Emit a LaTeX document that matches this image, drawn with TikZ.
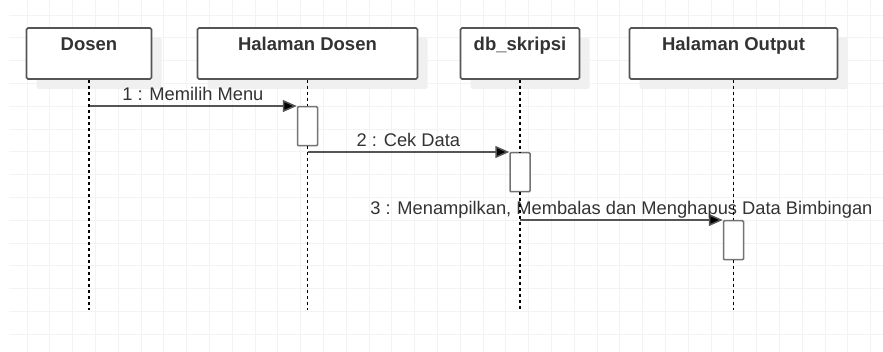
\documentclass[tikz,border=0pt]{standalone}
\usepackage{fontspec}
\setmainfont{Liberation Sans}
\usepackage{xcolor}
\usetikzlibrary{shapes, arrows.meta, positioning, shadows}
\definecolor{txtgray}{HTML}{333333}
\definecolor{linegray}{HTML}{555555}
\definecolor{gridgray}{HTML}{F3F3F3}
\definecolor{shadowgray}{HTML}{F0F0F0}

\begin{document}
\begin{tikzpicture}[x=1pt, y=-1pt,
    headbox/.style={draw=linegray, line width=1.6pt, rectangle, rounded corners=1.5pt, fill=white,
        general shadow={fill=shadowgray, shadow xshift=10pt, shadow yshift=-10pt},
        inner sep=5pt, text height=18pt, text depth=23pt, text=txtgray,
        font=\fontsize{18.5}{20}\selectfont\bfseries},
    actbox/.style={draw=black!55, line width=1.5pt, rectangle, fill=white, rounded corners=1pt,
        minimum width=20pt, minimum height=39pt, inner sep=0pt, anchor=north},
    lifeline/.style={black, line width=1.2pt, dash pattern=on 3pt off 3pt},
    msg/.style={draw=linegray, line width=1.5pt, -{Triangle[length=14pt, width=12pt, fill=black]}},
    msglabel/.style={anchor=base, yshift=5.5pt, text=txtgray, font=\fontsize{18.3}{20}\selectfont}]

    \useasboundingbox (0,0) rectangle (883,352);
    \fill[white] (0,0) rectangle (883,352);

    % grid
    \foreach \gx in {0,...,37}
        \draw[gridgray, line width=0.9pt] ({27+22.8*\gx},0) -- ({27+22.8*\gx},352);
    \foreach \gy in {0,...,14}
        \draw[gridgray, line width=0.9pt] (9,{15+22.8*\gy}) -- (883,{15+22.8*\gy});

    \node[headbox, minimum width=125pt] (dosen) at (89,53.5) {Dosen};
    \node[headbox, minimum width=220pt] (halDosen) at (307.5,53.5) {Halaman Dosen};
    \node[headbox, minimum width=119pt] (db) at (520,53.5) {db\_skripsi};
    \node[headbox, minimum width=208pt] (halOutput) at (733.5,53.5) {Halaman Output};

    \coordinate (dosenEnd) at (89,310);
    \coordinate (halDosenEnd) at (307.5,310);
    \coordinate (dbEnd) at (520,310);
    \coordinate (halOutputEnd) at (733.5,310);

    \node[actbox] (act1) at (307.5,106) {};
    \node[actbox] (act2) at (520,152) {};
    \node[actbox] (act3) at (733.5,220) {};

    \draw[msg] (dosen.south |- act1.north west) -- node[msglabel] {1 : Memilih Menu} (act1.north west);
    \draw[msg] (halDosen.south |- act2.north west) -- node[msglabel] {2 : Cek Data} (act2.north west);
    \draw[msg] (db.south |- act3.north west) -- node[msglabel] {3 : Menampilkan, Membalas dan Menghapus Data Bimbingan} (act3.north west);

    % lifelines over the labels, activations over the lifelines
    \draw[lifeline] (dosen.south) -- (dosenEnd);
    \draw[lifeline] (halDosen.south) -- (act1.north);
    \draw[lifeline] (act1.south) -- (halDosenEnd);
    \draw[lifeline] (db.south) -- (act2.north);
    \draw[lifeline] (act2.south) -- (dbEnd);
    \draw[lifeline] (halOutput.south) -- (act3.north);
    \draw[lifeline] (act3.south) -- (halOutputEnd);
\end{tikzpicture}
\end{document}
